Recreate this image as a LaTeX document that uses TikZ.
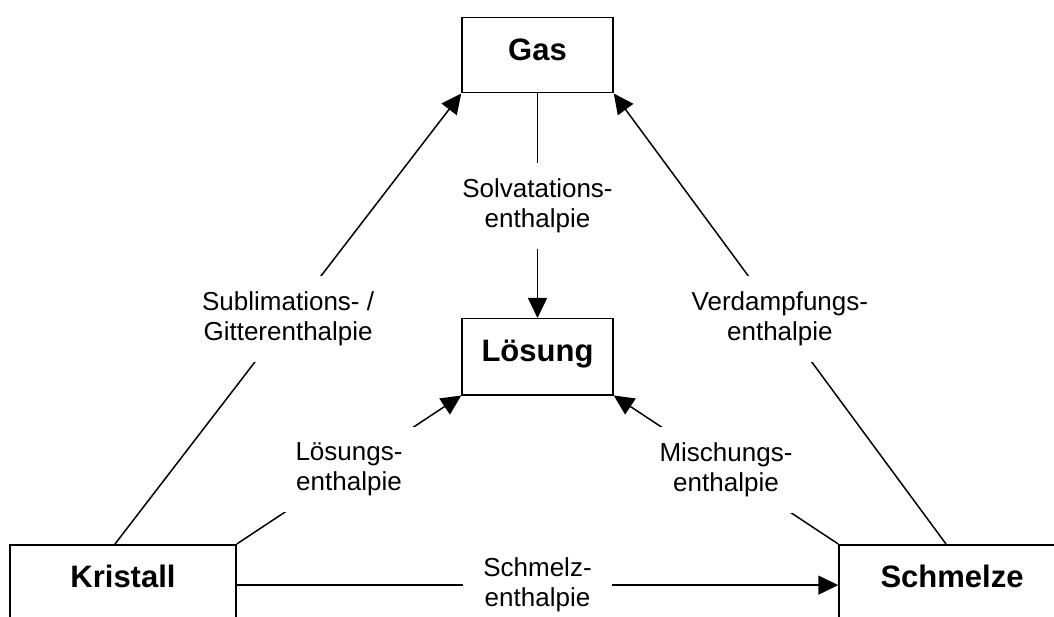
\documentclass[tikz,border=0pt]{standalone}
\usepackage{fontspec}
\setmainfont{Liberation Sans}
\usetikzlibrary{arrows.meta}

\tikzset{
  phase/.style={draw, line width=1.5pt, anchor=north, inner sep=0pt, text height=43pt,
    font=\fontsize{31}{36}\selectfont\bfseries},
  enth/.style={fill=white, align=center, inner xsep=20pt, inner ysep=16pt,
    font=\fontsize{26}{30}\selectfont},
  flow/.style={line width=1.5pt, -{Triangle[length=20pt, width=19pt]}}
}

\begin{document}
\begin{tikzpicture}[x=1pt, y=-1pt]

\useasboundingbox (0,0) rectangle (1054,617);
\clip (-20,-20) rectangle (1074,637);

% ==== Phases ====
\node[phase, minimum width=151pt, text depth=32pt] (Gas) at (537.5,17) {Gas};
\node[phase, minimum width=151pt, text depth=33pt] (Loesung) at (537.5,318) {Lösung};

% bottom boxes run past the border
\node[phase, minimum width=226pt, text depth=100pt] (Kristall) at (123,544) {Kristall};
\node[phase, minimum width=226pt, text depth=100pt] (Schmelze) at (952,544) {Schmelze};

% ==== Enthalpies ====
\draw[flow] ([xshift=-8pt]Kristall.north) -- (Gas.south west)
    node[enth, pos=.5] {Sublimations- /\\Gitterenthalpie};
\draw[flow] ([xshift=-6pt]Schmelze.north) -- (Gas.south east)
    node[enth, pos=.5] {Verdampfungs-\\enthalpie};
\draw[flow] (Gas.south) -- (Loesung.north)
    node[enth, pos=.5] {Solvatations-\\enthalpie};
\draw[flow] (Kristall.north east) -- (Loesung.south west)
    node[enth, pos=.5] {Lösungs-\\enthalpie};
\draw[flow] (Schmelze.north west) -- (Loesung.south east)
    node[enth, pos=.5] {Mischungs-\\enthalpie};
\draw[flow] (Kristall.mid east) -- (Schmelze.mid west)
    node[enth, pos=.5] {Schmelz-\\enthalpie};

\end{tikzpicture}
\end{document}
